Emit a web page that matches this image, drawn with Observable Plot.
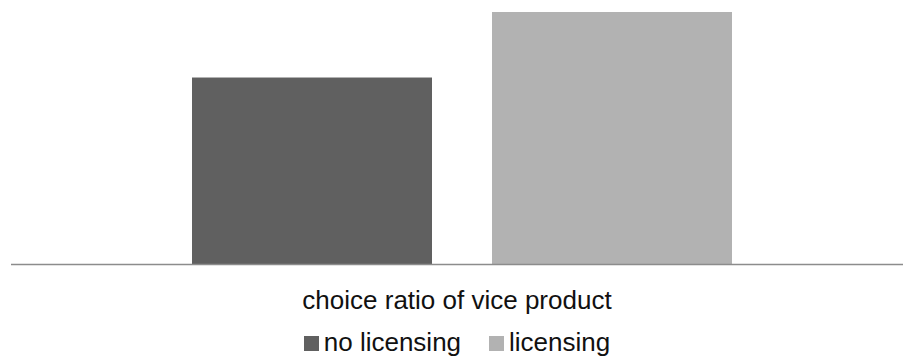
<!DOCTYPE html>
<html>
<head>
<meta charset="utf-8">
<script src="https://cdn.jsdelivr.net/npm/d3@7"></script>
<script src="https://cdn.jsdelivr.net/npm/@observablehq/plot@0.6"></script>
<style>
  body { margin: 0; background: #fff; font-family: "Liberation Sans", Arial, sans-serif; color: #111; }
  #wrap { width: 903px; }
  svg { display: block; }
  .title { padding-left: 11px; width: 892px; text-align: center; font-size: 26px; line-height: 30px; margin-top: 15px; }
  .legend { padding-left: 11px; width: 892px; display: flex; justify-content: center; align-items: center; font-size: 26px; line-height: 30px; margin-top: 12px; }
  .item { display: flex; align-items: center; }
  .sw { width: 15px; height: 15px; margin-right: 5px; margin-top: 2px; }
  .gap { width: 28px; }
</style>
</head>
<body>
<div id="wrap"></div>
<script>
const categories = ["no licensing", "licensing"];
const values = [0.37, 0.50];
const colors = ["#606060", "#b2b2b2"];
const title = "choice ratio of vice product";

const data = categories.map((c, i) => ({category: c, value: values[i]}));

const chart = Plot.plot({
  width: 903,
  height: 270,
  marginLeft: 11,
  marginRight: 0,
  marginTop: 12,
  marginBottom: 6,
  x: {domain: categories, range: [191, 733], paddingInner: 0.199, paddingOuter: 0, axis: null},
  y: {domain: [0, 0.5], axis: null},
  color: {domain: categories, range: colors},
  marks: [
    Plot.barY(data, {x: "category", y: "value", fill: "category"}),
    Plot.ruleY([0], {stroke: "#8c8c8c", strokeWidth: 1.5})
  ]
});

const wrap = document.getElementById("wrap");
wrap.appendChild(chart);

const t = document.createElement("div");
t.className = "title";
t.textContent = title;
wrap.appendChild(t);

const lg = document.createElement("div");
lg.className = "legend";
categories.forEach((c, i) => {
  if (i > 0) { const g = document.createElement("div"); g.className = "gap"; lg.appendChild(g); }
  const it = document.createElement("div");
  it.className = "item";
  const sw = document.createElement("div");
  sw.className = "sw";
  sw.style.background = colors[i];
  it.appendChild(sw);
  const s = document.createElement("span");
  s.textContent = c;
  it.appendChild(s);
  lg.appendChild(it);
});
wrap.appendChild(lg);
</script>
</body>
</html>
